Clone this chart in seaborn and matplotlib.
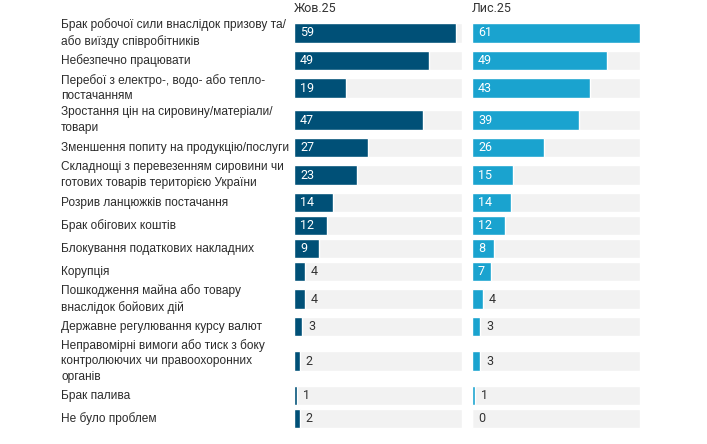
import numpy as np
import pandas as pd
import matplotlib
matplotlib.use("Agg")
import matplotlib.pyplot as plt
import matplotlib.transforms as mtransforms
import seaborn as sns

# SECTION - DATA
labels = [
    "Брак робочої сили внаслідок призову та/\nабо виїзду співробітників",
    "Небезпечно працювати",
    "Перебої з електро-, водо- або тепло-\nпостачанням",
    "Зростання цін на сировину/матеріали/\nтовари",
    "Зменшення попиту на продукцію/послуги",
    "Складнощі з перевезенням сировини чи\nготових товарів територією України",
    "Розрив ланцюжків постачання",
    "Брак обігових коштів",
    "Блокування податкових накладних",
    "Корупція",
    "Пошкодження майна або товару\nвнаслідок бойових дій",
    "Державне регулювання курсу валют",
    "Неправомірні вимоги або тиск з боку\nконтролюючих чи правоохоронних\nорганів",
    "Брак палива",
    "Не було проблем",
]
oct25 = [59, 49, 19, 47, 27, 23, 14, 12, 9, 4, 4, 3, 2, 1, 2]
nov25 = [61, 49, 43, 39, 26, 15, 14, 12, 8, 7, 4, 3, 3, 1, 0]
periods = ["Жов.25", "Лис.25"]
colors = ["#005077", "#1aa3cf"]
# !SECTION

# SECTION - LAYOUT
W, H = 707, 444
row_h = {1: 23, 2: 32, 3: 46}
heights = np.array([row_h[lab.count("\n") + 1] for lab in labels], dtype=float)
pos = 17 + np.cumsum(heights) - heights / 2
vmax = max(max(oct25), max(nov25))

sns.set_theme(style="white")
plt.rcParams["font.family"] = ["Liberation Sans", "DejaVu Sans"]

fig = plt.figure(figsize=(W / 100, H / 100), dpi=100)
panels = [(294, 462), (472, 640)]
# !SECTION

for (x0, x1), period, col, vals in zip(panels, periods, colors, [oct25, nov25]):
    ax = fig.add_axes([x0 / W, 0, (x1 - x0) / W, 1])
    df = pd.DataFrame({"pos": pos, "value": vals, "track": vmax})
    sns.barplot(data=df, x="track", y="pos", orient="y", native_scale=True,
                color="#f2f2f2", saturation=1, width=0.86, errorbar=None, ax=ax)
    sns.barplot(data=df, x="value", y="pos", orient="y", native_scale=True,
                color=col, saturation=1, width=0.86, errorbar=None, ax=ax)
    ax.set_xlim(0, vmax)
    ax.set_ylim(H, 0)
    ax.axis("off")

    for v, p in zip(vals, pos):
        inside = v >= 5
        ax.annotate(str(v), xy=(0 if inside else v, p), xytext=(4.3, 0),
                    textcoords="offset points", va="center", ha="left",
                    fontsize=9, family="Roboto",
                    color="white" if inside else "#333333")

    ax.text(0, 8, period, transform=mtransforms.blended_transform_factory(ax.transAxes, ax.transData),
            ha="left", va="center", fontsize=9, family="Roboto", color="#333333")

    if x0 == panels[0][0]:
        trans = mtransforms.blended_transform_factory(fig.transFigure, ax.transData)
        for lab, p in zip(labels, pos):
            ax.text(61 / W, p, lab, transform=trans, ha="left", va="center",
                    fontsize=8.6, color="#2b2b2b", linespacing=1.35)

fig.savefig("out.png", dpi=100)
